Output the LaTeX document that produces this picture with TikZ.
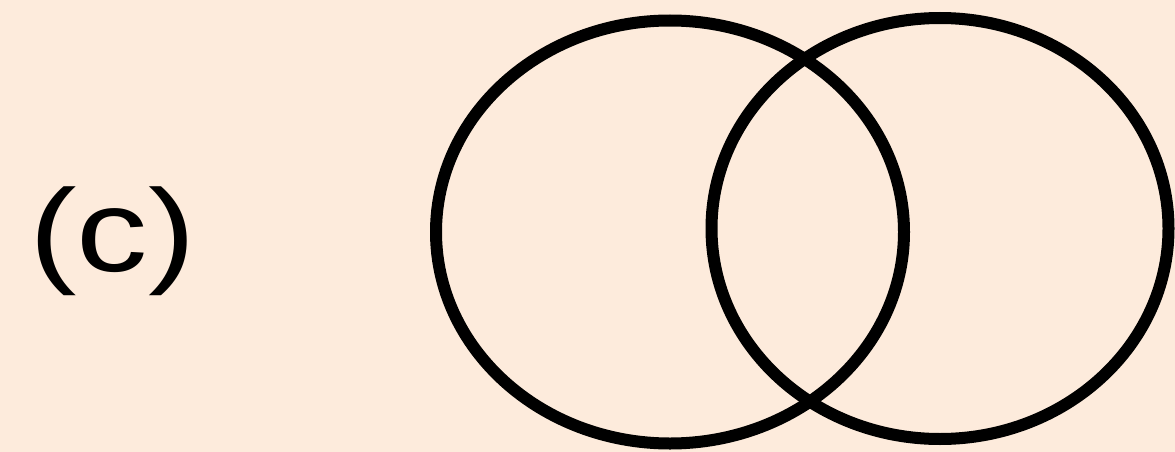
\documentclass[tikz,border=0pt]{standalone}
\usepackage{fontspec}
\setmainfont{Liberation Sans}
\definecolor{bgpeach}{HTML}{FDEBDC}
\tikzset{ring/.style={draw=black,line width=12pt}}
\begin{document}
\begin{tikzpicture}[x=1pt,y=-1pt]
\fill[bgpeach] (0,0) rectangle (1175,452);
\useasboundingbox (0,0) rectangle (1175,452);
\node[inner sep=0pt,font=\fontsize{117}{120}\selectfont] (lbl) at (112.5,241) {\scalebox{1.22}[1]{(c)}};
\draw[ring] (670,232) ellipse [x radius=234, y radius=211.5];
\draw[ring] (940,228.5) ellipse [x radius=228.5, y radius=210.5];
\end{tikzpicture}
\end{document}
